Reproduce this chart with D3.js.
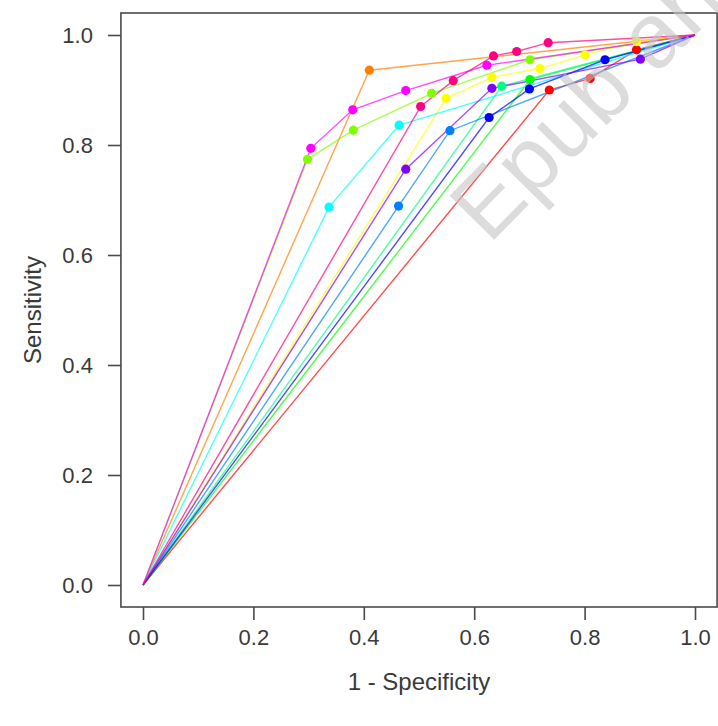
<!DOCTYPE html>
<html>
<head>
<meta charset="utf-8">
<script src="https://cdn.jsdelivr.net/npm/d3@7"></script>
<style>
  body { margin: 0; background: #fff; }
  svg { display: block; font-family: "Liberation Sans", Arial, sans-serif; }
</style>
</head>
<body>
<svg id="roc"></svg>
<script>
// one entry per curve, R rainbow(12)
var curveColors = ["#FF0000", "#FF8000", "#FFFF00", "#80FF00", "#00FF00", "#00FF80",
                   "#00FFFF", "#0080FF", "#0000FF", "#8000FF", "#FF00FF", "#FF0080"]

// 1 - specificity
var fpr = [
  [0, 0.736, 0.810, 0.894, 1],
  [0, 0.410, 1],
  [0, 0.549, 0.632, 0.719, 0.801, 0.894, 1],
  [0, 0.298, 0.381, 0.523, 0.701, 1],
  [0, 0.701, 1],
  [0, 0.650, 1],
  [0, 0.337, 0.464, 1],
  [0, 0.463, 0.556, 1],
  [0, 0.627, 0.700, 0.837, 1],
  [0, 0.476, 0.632, 0.901, 1],
  [0, 0.304, 0.380, 0.476, 0.623, 1],
  [0, 0.503, 0.562, 0.635, 0.677, 0.734, 1]
]

// sensitivity
var tpr = [
  [0, 0.900, 0.921, 0.973, 1],
  [0, 0.936, 1],
  [0, 0.885, 0.923, 0.939, 0.964, 0.988, 1],
  [0, 0.774, 0.827, 0.894, 0.955, 1],
  [0, 0.919, 1],
  [0, 0.907, 1],
  [0, 0.687, 0.836, 1],
  [0, 0.689, 0.826, 1],
  [0, 0.850, 0.902, 0.955, 1],
  [0, 0.756, 0.903, 0.956, 1],
  [0, 0.794, 0.864, 0.899, 0.945, 1],
  [0, 0.870, 0.917, 0.962, 0.970, 0.986, 1]
]

var xTicks = [0, 0.2, 0.4, 0.6, 0.8, 1.0]
var yTicks = [0, 0.2, 0.4, 0.6, 0.8, 1.0]

var width = 718, height = 726

var x = d3.scaleLinear().domain([0, 1]).range([143, 695])
var y = d3.scaleLinear().domain([0, 1]).range([585, 35])

var svg = d3.select("svg#roc")
    .attr("width", width)
    .attr("height", height)

var curves = fpr.map(function(xs, i) {
  return { color: curveColors[i], pts: xs.map(function(v, j) { return [v, tpr[i][j]] }) }
})

var line = d3.line()
    .x(function(d) { return x(d[0]) })
    .y(function(d) { return y(d[1]) })

var g = svg.append("g")

g.selectAll("path.curve")
  .data(curves)
  .enter().append("path")
    .attr("class", "curve")
    .attr("d", function(d) { return line(d.pts) })
    .style("fill", "none")
    .style("stroke", function(d) { return d.color })
    .style("stroke-width", 1.4)
    .style("stroke-opacity", 0.7)

curves.forEach(function(c) {
  g.selectAll(null)
    .data(c.pts.slice(1, -1))
    .enter().append("circle")
      .attr("cx", function(d) { return x(d[0]) })
      .attr("cy", function(d) { return y(d[1]) })
      .attr("r", 4.6)
      .style("fill", c.color)
})

// box around plot region (R adds 4% on each side)
svg.append("rect")
    .attr("x", x(-0.04))
    .attr("y", y(1.04))
    .attr("width", x(1.04) - x(-0.04))
    .attr("height", y(-0.04) - y(1.04))
    .style("fill", "none")
    .style("stroke", "#4a4a4a")
    .style("stroke-width", 1.6)

var xAxis = d3.axisBottom(x)
    .tickValues(xTicks)
    .tickFormat(d3.format(".1f"))
    .tickSizeInner(13)
    .tickSizeOuter(0)
    .tickPadding(9)

var yAxis = d3.axisLeft(y)
    .tickValues(yTicks)
    .tickFormat(d3.format(".1f"))
    .tickSizeInner(13)
    .tickSizeOuter(0)
    .tickPadding(15)

svg.append("g")
    .attr("transform", "translate(0," + y(-0.04) + ")")
    .call(xAxis)

svg.append("g")
    .attr("transform", "translate(" + x(-0.04) + ",0)")
    .call(yAxis)

svg.selectAll(".domain").remove()
svg.selectAll(".tick line")
    .style("stroke", "#4a4a4a")
    .style("stroke-width", 1.6)
svg.selectAll(".tick text")
    .style("font-size", "22px")
    .style("fill", "#3a3a3a")
    .style("font-family", "'Liberation Sans', Arial, sans-serif")

svg.append("text")
    .attr("x", x(0.5))
    .attr("y", 681)
    .attr("text-anchor", "middle")
    .attr("dominant-baseline", "central")
    .style("font-size", "24px")
    .style("fill", "#3a3a3a")
    .text("1 - Specificity")

svg.append("text")
    .attr("transform", "translate(32," + y(0.5) + ") rotate(-90)")
    .attr("text-anchor", "middle")
    .attr("dominant-baseline", "central")
    .style("font-size", "24px")
    .style("fill", "#3a3a3a")
    .text("Sensitivity")

// watermark
svg.append("text")
    .attr("transform", "translate(489,245) rotate(-45.5)")
    .style("font-size", "91px")
    .style("fill", "#c4c4c4")
    .style("fill-opacity", 0.6)
    .text("Epub ahead")
</script>
</body>
</html>
